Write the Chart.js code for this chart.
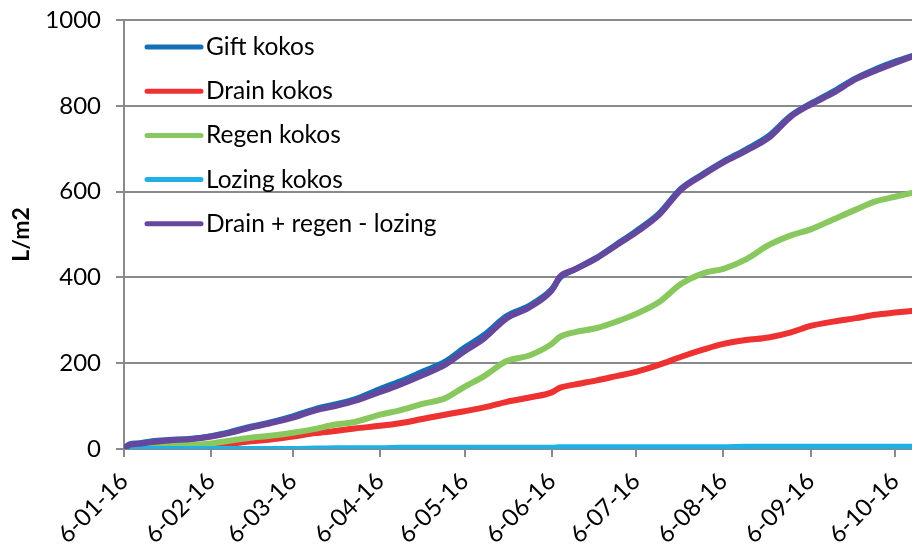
<!DOCTYPE html>
<html>
<head>
<meta charset="utf-8">
<script src="https://cdn.jsdelivr.net/npm/chart.js@4.4.1/dist/chart.umd.min.js"></script>
<style>
  html, body { margin: 0; padding: 0; background: #fff; }
  #wrap { width: 912px; height: 544px; }
</style>
</head>
<body>
<div id="wrap"><canvas id="myChart" width="912" height="544"></canvas></div>
<script>
// days after 6-01-16
const days = [0, 2, 5, 10, 16, 24, 31, 38, 45, 52, 60, 68, 75, 82, 91, 98, 106, 114, 121, 128, 136, 144, 152, 155, 160, 168, 175, 182, 190, 198, 206, 213, 221, 229, 237, 244, 252, 260, 267, 274, 280];

const gift =   [0, 11, 13, 18, 21, 24, 30, 40, 52, 62, 76, 93, 104, 116, 140, 157, 180, 203, 236, 266, 310, 334, 372, 400, 418, 446, 477, 508, 548, 607, 642, 670, 698, 729, 777, 805, 833, 864, 885, 903, 916];
const drain =  [0, 0, 1, 1, 2, 3, 5, 12, 18, 22, 29, 37, 42, 48, 54, 60, 70, 80, 88, 97, 110, 120, 132, 143, 150, 160, 170, 180, 196, 215, 232, 245, 254, 260, 272, 287, 297, 305, 313, 318, 322];
const regen =  [0, 2, 4, 7, 9, 10, 13, 20, 26, 31, 38, 47, 57, 63, 80, 90, 105, 118, 145, 170, 205, 218, 245, 262, 272, 282, 297, 315, 342, 385, 410, 420, 442, 475, 498, 512, 535, 558, 577, 588, 597];
const lozing = [0, 0, 0, 0, 0, 0, 0, 0, 0, 0, 0, 1, 2, 2, 2, 3, 3, 3, 3, 3, 3, 3, 3, 4, 4, 4, 4, 4, 4, 4, 4, 4, 5, 5, 5, 5, 5, 5, 5, 5, 5];
const balans = [0, 10, 12, 16, 20, 23, 29, 38, 50, 60, 73, 90, 100, 112, 133, 150, 172, 196, 228, 258, 305, 330, 370, 402, 418, 445, 475, 505, 545, 605, 640, 668, 695, 725, 775, 803, 830, 862, 882, 900, 915];

const seriesNames = ["Gift kokos", "Drain kokos", "Regen kokos", "Lozing kokos", "Drain + regen - lozing"];
const seriesColors = ["#1370b8", "#ee3131", "#88c85e", "#1fb0e6", "#65479e"];

const tickDays = [0, 31, 60, 91, 121, 152, 182, 213, 244, 274];
const tickLabels = ["6-01-16", "6-02-16", "6-03-16", "6-04-16", "6-05-16", "6-06-16", "6-07-16", "6-08-16", "6-09-16", "6-10-16"];

const FONT = "Lato";

function pts(vals) {
  return days.map((d, i) => ({ x: d, y: vals[i] }));
}

const allVals = [gift, drain, regen, lozing, balans];
const orders = [4, 3, 2, 1, 0];

const datasets = allVals.map((v, i) => ({
  label: seriesNames[i],
  data: pts(v),
  borderColor: seriesColors[i],
  backgroundColor: seriesColors[i],
  borderWidth: 6,
  pointRadius: 0,
  cubicInterpolationMode: 'monotone',
  borderJoinStyle: 'round',
  borderCapStyle: 'round',
  order: orders[i]
}));

// legend drawn inside the plot, top-left
const insideLegend = {
  id: 'insideLegend',
  afterDatasetsDraw(chart) {
    const ctx = chart.ctx;
    ctx.save();
    chart.data.datasets.forEach((ds, i) => {
      const y = 47 + i * 44.2;
      ctx.strokeStyle = ds.borderColor;
      ctx.lineWidth = 5;
      ctx.lineCap = 'round';
      ctx.beginPath();
      ctx.moveTo(147, y);
      ctx.lineTo(201, y);
      ctx.stroke();
      ctx.fillStyle = '#000';
      ctx.font = '24.5px ' + FONT;
      ctx.textBaseline = 'middle';
      ctx.textAlign = 'left';
      ctx.fillText(ds.label, 206, y);
    });
    ctx.restore();
  }
};

const ctx = document.getElementById('myChart');
new Chart(ctx, {
  type: 'line',
  data: { datasets: datasets },
  options: {
    responsive: false,
    animation: false,
    devicePixelRatio: 1,
    layout: { padding: { top: 20, right: 0, bottom: 0, left: 0 } },
    plugins: {
      legend: { display: false },
      tooltip: { enabled: false }
    },
    scales: {
      x: {
        type: 'linear',
        min: 0,
        max: 280,
        afterBuildTicks: (scale) => { scale.ticks = tickDays.map(v => ({ value: v })); },
        afterFit: (scale) => {
          scale.height = 95;
          scale.paddingLeft = 0;
          scale.paddingRight = 0;
        },
        border: { display: false },
        grid: { drawOnChartArea: false, color: '#8a8a8a', lineWidth: 2, tickLength: 8 },
        ticks: {
          autoSkip: false,
          maxRotation: 45,
          minRotation: 45,
          padding: 10,
          color: '#000',
          font: { family: FONT, size: 24 },
          callback: (v, i) => tickLabels[i]
        }
      },
      y: {
        min: 0,
        max: 1000,
        afterFit: (scale) => {
          scale.width = 124;
          scale.paddingTop = 0;
          scale.paddingBottom = 0;
        },
        border: { display: true, color: '#8a8a8a', width: 2 },
        grid: { color: '#8a8a8a', lineWidth: 2, tickLength: 8 },
        ticks: {
          stepSize: 200,
          padding: 15,
          color: '#000',
          font: { family: FONT, size: 24 },
          callback: (v) => String(v)
        },
        title: {
          display: true,
          text: 'L/m2',
          color: '#000',
          padding: { top: 8, bottom: 0 },
          font: { family: FONT, size: 23, weight: 'bold' }
        }
      }
    }
  },
  plugins: [insideLegend]
});
</script>
</body>
</html>
